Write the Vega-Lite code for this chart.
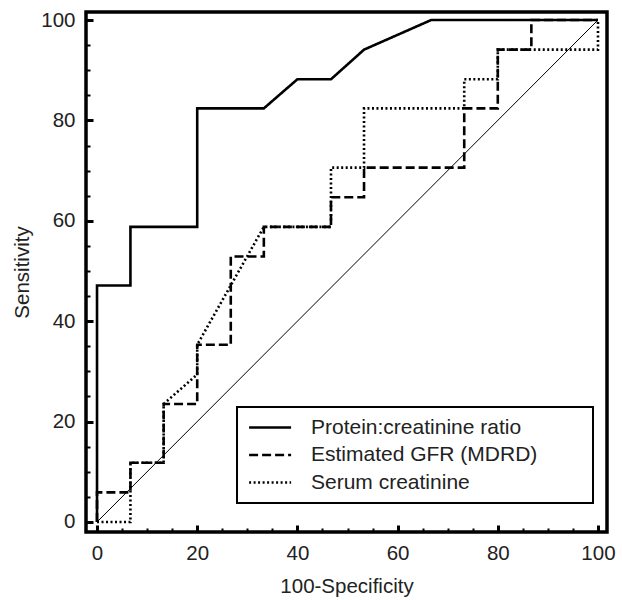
{
  "$schema": "https://vega.github.io/schema/vega-lite/v6.json",
  "width": 521,
  "height": 520,
  "autosize": "none",
  "padding": {"left": 86, "top": 12, "right": 15, "bottom": 68},
  "background": "white",
  "view": {"stroke": "black", "strokeWidth": 3.5},
  "config": {
    "view": {"stroke": "black", "strokeWidth": 3.5},
    "font": "Liberation Sans",
    "axis": {
      "grid": false,
      "domain": false,
      "tickColor": "black",
      "labelColor": "#222",
      "titleColor": "#222",
      "labelFont": "Liberation Sans",
      "titleFont": "Liberation Sans",
      "labelFontSize": 20.5,
      "titleFontSize": 20.5,
      "titleFontWeight": "normal"
    },
    "legend": {
      "labelFont": "Liberation Sans",
      "labelFontSize": 21,
      "labelColor": "#222",
      "strokeWidth": 2
    }
  },
  "datasets": {
    "diag": [
      {"x": 0, "y": 0},
      {"x": 100, "y": 100}
    ],
    "roc": [
      {"series": "Protein:creatinine ratio", "ord": 1, "fpr": 0, "sens": 0},
      {"series": "Protein:creatinine ratio", "ord": 2, "fpr": 0, "sens": 47.1},
      {"series": "Protein:creatinine ratio", "ord": 3, "fpr": 6.67, "sens": 47.1},
      {"series": "Protein:creatinine ratio", "ord": 4, "fpr": 6.67, "sens": 58.8},
      {"series": "Protein:creatinine ratio", "ord": 5, "fpr": 20, "sens": 58.8},
      {"series": "Protein:creatinine ratio", "ord": 6, "fpr": 20, "sens": 82.4},
      {"series": "Protein:creatinine ratio", "ord": 7, "fpr": 33.3, "sens": 82.4},
      {"series": "Protein:creatinine ratio", "ord": 8, "fpr": 40, "sens": 88.2},
      {"series": "Protein:creatinine ratio", "ord": 9, "fpr": 46.7, "sens": 88.2},
      {"series": "Protein:creatinine ratio", "ord": 10, "fpr": 53.3, "sens": 94.1},
      {"series": "Protein:creatinine ratio", "ord": 11, "fpr": 66.7, "sens": 100},
      {"series": "Protein:creatinine ratio", "ord": 12, "fpr": 100, "sens": 100},
      {"series": "Estimated GFR (MDRD)", "ord": 1, "fpr": 0, "sens": 0},
      {"series": "Estimated GFR (MDRD)", "ord": 2, "fpr": 0, "sens": 5.9},
      {"series": "Estimated GFR (MDRD)", "ord": 3, "fpr": 6.67, "sens": 5.9},
      {"series": "Estimated GFR (MDRD)", "ord": 4, "fpr": 6.67, "sens": 11.8},
      {"series": "Estimated GFR (MDRD)", "ord": 5, "fpr": 13.3, "sens": 11.8},
      {"series": "Estimated GFR (MDRD)", "ord": 6, "fpr": 13.3, "sens": 23.5},
      {"series": "Estimated GFR (MDRD)", "ord": 7, "fpr": 20, "sens": 23.5},
      {"series": "Estimated GFR (MDRD)", "ord": 8, "fpr": 20, "sens": 35.3},
      {"series": "Estimated GFR (MDRD)", "ord": 9, "fpr": 26.7, "sens": 35.3},
      {"series": "Estimated GFR (MDRD)", "ord": 10, "fpr": 26.7, "sens": 52.9},
      {"series": "Estimated GFR (MDRD)", "ord": 11, "fpr": 33.3, "sens": 52.9},
      {"series": "Estimated GFR (MDRD)", "ord": 12, "fpr": 33.3, "sens": 58.8},
      {"series": "Estimated GFR (MDRD)", "ord": 13, "fpr": 46.7, "sens": 58.8},
      {"series": "Estimated GFR (MDRD)", "ord": 14, "fpr": 46.7, "sens": 64.7},
      {"series": "Estimated GFR (MDRD)", "ord": 15, "fpr": 53.3, "sens": 64.7},
      {"series": "Estimated GFR (MDRD)", "ord": 16, "fpr": 53.3, "sens": 70.6},
      {"series": "Estimated GFR (MDRD)", "ord": 17, "fpr": 73.3, "sens": 70.6},
      {"series": "Estimated GFR (MDRD)", "ord": 18, "fpr": 73.3, "sens": 82.4},
      {"series": "Estimated GFR (MDRD)", "ord": 19, "fpr": 80, "sens": 82.4},
      {"series": "Estimated GFR (MDRD)", "ord": 20, "fpr": 80, "sens": 94.1},
      {"series": "Estimated GFR (MDRD)", "ord": 21, "fpr": 86.7, "sens": 94.1},
      {"series": "Estimated GFR (MDRD)", "ord": 22, "fpr": 86.7, "sens": 100},
      {"series": "Estimated GFR (MDRD)", "ord": 23, "fpr": 100, "sens": 100},
      {"series": "Serum creatinine", "ord": 1, "fpr": 0, "sens": 0},
      {"series": "Serum creatinine", "ord": 2, "fpr": 6.67, "sens": 0},
      {"series": "Serum creatinine", "ord": 3, "fpr": 6.67, "sens": 11.8},
      {"series": "Serum creatinine", "ord": 4, "fpr": 13.3, "sens": 11.8},
      {"series": "Serum creatinine", "ord": 5, "fpr": 13.3, "sens": 23.5},
      {"series": "Serum creatinine", "ord": 6, "fpr": 20, "sens": 29.4},
      {"series": "Serum creatinine", "ord": 7, "fpr": 20, "sens": 35.3},
      {"series": "Serum creatinine", "ord": 8, "fpr": 33.3, "sens": 58.8},
      {"series": "Serum creatinine", "ord": 9, "fpr": 46.7, "sens": 58.8},
      {"series": "Serum creatinine", "ord": 10, "fpr": 46.7, "sens": 70.6},
      {"series": "Serum creatinine", "ord": 11, "fpr": 53.3, "sens": 70.6},
      {"series": "Serum creatinine", "ord": 12, "fpr": 53.3, "sens": 82.4},
      {"series": "Serum creatinine", "ord": 13, "fpr": 73.3, "sens": 82.4},
      {"series": "Serum creatinine", "ord": 14, "fpr": 73.3, "sens": 88.2},
      {"series": "Serum creatinine", "ord": 15, "fpr": 80, "sens": 88.2},
      {"series": "Serum creatinine", "ord": 16, "fpr": 80, "sens": 94.1},
      {"series": "Serum creatinine", "ord": 17, "fpr": 100, "sens": 94.1},
      {"series": "Serum creatinine", "ord": 18, "fpr": 100, "sens": 100}
    ]
  },
  "layer": [
    {
      "data": {"name": "diag"},
      "mark": {"type": "line", "color": "black", "strokeWidth": 1},
      "encoding": {
        "x": {
          "field": "x", "type": "quantitative",
          "scale": {"domain": [-2.2, 101.8], "nice": false, "zero": false},
          "axis": {"orient": "bottom", "values": [5, 10, 15, 25, 30, 35, 45, 50, 55, 65, 70, 75, 85, 90, 95], "tickSize": -4, "tickWidth": 2, "tickColor": "black", "labels": false, "title": null, "domain": false, "grid": false}
        },
        "y": {
          "field": "y", "type": "quantitative",
          "scale": {"domain": [-2, 101.6], "nice": false, "zero": false},
          "axis": {"orient": "left", "values": [5, 10, 15, 25, 30, 35, 45, 50, 55, 65, 70, 75, 85, 90, 95], "tickSize": -4, "tickWidth": 2, "tickColor": "black", "labels": false, "title": null, "domain": false, "grid": false}
        }
      }
    },
    {
      "data": {"name": "roc"},
      "mark": {"type": "line", "color": "black", "strokeWidth": 2.6, "strokeCap": "butt"},
      "encoding": {
        "x": {
          "field": "fpr", "type": "quantitative",
          "scale": {"domain": [-2.2, 101.8], "nice": false, "zero": false},
          "axis": {"orient": "bottom", "values": [0, 20, 40, 60, 80, 100], "tickSize": -7, "tickWidth": 3, "tickColor": "black", "domain": false, "grid": false,
            "labelPadding": 18, "labelFont": "Liberation Sans", "labelFontSize": 20.5, "labelColor": "#222",
            "title": "100-Specificity", "titlePadding": 13, "titleFont": "Liberation Sans", "titleFontSize": 20.5, "titleFontWeight": "normal", "titleColor": "#222"}
        },
        "y": {
          "field": "sens", "type": "quantitative",
          "scale": {"domain": [-2, 101.6], "nice": false, "zero": false},
          "axis": {"orient": "left", "values": [0, 20, 40, 60, 80, 100], "tickSize": -7, "tickWidth": 3, "tickColor": "black", "domain": false, "grid": false,
            "labelPadding": 18, "labelFont": "Liberation Sans", "labelFontSize": 20.5, "labelColor": "#222",
            "title": "Sensitivity", "titlePadding": 8, "titleFont": "Liberation Sans", "titleFontSize": 20.5, "titleFontWeight": "normal", "titleColor": "#222"}
        },
        "order": {"field": "ord", "type": "quantitative"},
        "strokeDash": {
          "field": "series", "type": "nominal",
          "scale": {"domain": ["Protein:creatinine ratio", "Estimated GFR (MDRD)", "Serum creatinine"], "range": [[1, 0], [9, 4], [2, 2.5]]},
          "legend": {
            "title": " ",
            "titleOrient": "right",
            "titlePadding": 46,
            "orient": "none",
            "legendX": 151,
            "legendY": 395,
            "padding": 10,
            "fillColor": "white",
            "strokeColor": "black",
            "symbolType": "M-1,0H4",
            "symbolSize": 282,
            "symbolStrokeWidth": 2.5,
            "symbolStrokeColor": "black",
            "symbolFillColor": "transparent",
            "labelOffset": 43,
            "labelLimit": 400,
            "labelFont": "Liberation Sans",
            "labelFontSize": 21,
            "labelColor": "#222",
            "rowPadding": 5.5
          }
        }
      }
    }
  ],
  "resolve": {"axis": {"x": "independent", "y": "independent"}}
}
